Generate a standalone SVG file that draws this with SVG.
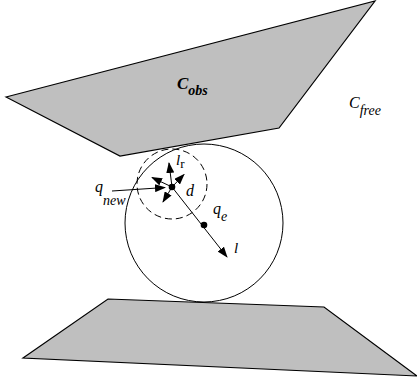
<svg xmlns="http://www.w3.org/2000/svg" width="417" height="384" viewBox="0 0 417 384">
<style>
.obs{fill:#bfbfbf;stroke:#000;stroke-width:1.2;stroke-linejoin:miter}
.ln{fill:none;stroke:#000;stroke-width:1}
.t{font-family:"Liberation Serif","DejaVu Serif",serif;font-style:italic;fill:#000}
</style>
<defs>
<marker id="ah" viewBox="0 0 11 8" refX="10" refY="4" markerWidth="11" markerHeight="8" markerUnits="userSpaceOnUse" orient="auto">
<path d="M0,0 L11,4 L0,8 Z" fill="#000"/>
</marker>
</defs>
<rect width="417" height="384" fill="#fff"/>
<g id="cobs">
<polygon class="obs" points="6,97 375,1 279,128 120,156"/>
<text class="t" x="177" y="89" font-size="17" font-weight="bold">C<tspan font-size="14" dy="6">obs</tspan></text>
</g>
<g id="bottom-obstacle">
<polygon class="obs" points="108,299 324,307 417,376 23,358"/>
</g>
<g id="cfree">
<text class="t" x="349" y="108" font-size="16">C<tspan font-size="14" dy="7">free</tspan></text>
</g>
<g id="big-circle">
<circle class="ln" cx="204" cy="223" r="79"/>
</g>
<g id="dashed-circle">
<circle class="ln" cx="172" cy="184" r="35" stroke-dasharray="7,4"/>
</g>
<g id="connectors">
<line class="ln" x1="172" y1="187" x2="227" y2="257" marker-end="url(#ah)"/>
<line class="ln" x1="112" y1="191" x2="165" y2="187.5" marker-end="url(#ah)"/>
<line class="ln" x1="172" y1="187" x2="169" y2="163" marker-end="url(#ah)"/>
<line class="ln" x1="172" y1="187" x2="152" y2="177.5" marker-end="url(#ah)"/>
<line class="ln" x1="172" y1="187" x2="184" y2="174.5" marker-end="url(#ah)"/>
<line class="ln" x1="172" y1="187" x2="163" y2="202" marker-end="url(#ah)"/>
</g>
<g id="qnew">
<circle cx="172" cy="187" r="3.3" fill="#000"/>
<text class="t" x="95" y="192" font-size="16">q<tspan font-size="14" dy="13">new</tspan></text>
</g>
<g id="qe">
<circle cx="204" cy="225" r="3.3" fill="#000"/>
<text class="t" x="213" y="214" font-size="16">q<tspan font-size="14" dy="7">e</tspan></text>
</g>
<g id="labels">
<text class="t" x="176" y="165" font-size="15">l<tspan font-style="normal" font-size="13" dy="3">r</tspan></text>
<text class="t" x="186" y="196" font-size="16">d</text>
<text class="t" x="234" y="253" font-size="15">l</text>
</g>
</svg>
